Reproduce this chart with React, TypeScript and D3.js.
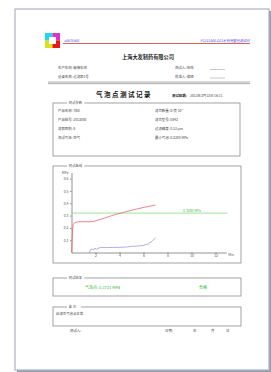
import { useEffect, useRef } from "react";
import { axisBottom, axisLeft, line, scaleLinear, select } from "d3";

// chart values
const yTicks = [0.1, 0.2, 0.3, 0.4, 0.5, 0.6];
const xTicks = [2, 4, 6, 8, 10, 12];
const pressureTime = [0, 0.05, 0.1, 0.15, 0.3, 0.6, 1.0, 1.5, 1.8, 2.5, 3.0, 3.7, 4.5, 5.5, 6.3, 7.0];
const pressureValue = [0, 0.1, 0.2, 0.23, 0.245, 0.25, 0.25, 0.25, 0.251, 0.272, 0.288, 0.31, 0.33, 0.355, 0.372, 0.386];
const flowTime = [1.5, 1.55, 1.7, 1.85, 1.95, 2.1, 2.2, 2.4, 3.0, 3.5, 4.0, 4.6, 5.0, 5.5, 6.0, 6.4, 6.7, 7.0];
const flowValue = [0, 0.02, 0.03, 0.02, 0.035, 0.026, 0.033, 0.04, 0.04, 0.041, 0.042, 0.045, 0.05, 0.052, 0.058, 0.07, 0.09, 0.12];
const minBubble = 0.32;
const bubblePoint = "0.3721";

const infoLeft = ["产品名称: TBD", "产品批号: 2013000", "滤器面积: 8", "测试气体: 空气"];
const infoRight = ["滤芯数量: 0/壳 10\"", "滤芯型号: 0843", "过滤精度: 0.22 μm", "最小气泡: 0.3200 MPa"];

const cjk = "'Noto Sans CJK SC', 'Noto Sans', sans-serif";

const Box = ({ x, y, w, h, label }: any) => (
  <g>
    <rect x={x} y={y} width={w} height={h} fill="none" stroke="#8c8c8c" strokeWidth={0.8} />
    <rect x={x + 14} y={y - 2} width={label.length * 3.6 + 3} height={4} fill="#fff" />
    <text x={x + 15.5} y={y + 1.3} fontSize={3.4} fill="#555">{label}</text>
  </g>
);

export default function App() {
  const xAxisRef = useRef<SVGGElement>(null);
  const yAxisRef = useRef<SVGGElement>(null);

  const x = scaleLinear().domain([0, 12.9]).range([71.5, 226.3]);
  const y = scaleLinear().domain([0, 0.65]).range([252.5, 172.5]);

  useEffect(() => {
    const xa = axisBottom(x).tickValues(xTicks).tickSize(1.5).tickSizeOuter(0).tickPadding(1);
    const ya = axisLeft(y).tickValues(yTicks).tickSize(1.5).tickSizeOuter(0).tickPadding(1.5)
      .tickFormat((d: any) => d.toFixed(1));
    const gx = select(xAxisRef.current);
    //@ts-ignore
    gx.attr("transform", `translate(0,${y(0)})`).call(xa);
    const gy = select(yAxisRef.current);
    //@ts-ignore
    gy.attr("transform", `translate(${x(0)},0)`).call(ya);
    [gx, gy].forEach((g: any) => {
      g.attr("font-size", 3.4).attr("font-family", cjk);
      g.selectAll("path,line").attr("stroke", "#666").attr("stroke-width", 0.7);
      g.selectAll("text").attr("fill", "#555");
    });
  }, []);

  const pressureLine = line<number>()
    .x((d, i) => x(pressureTime[i]))
    .y((d) => y(d));
  const flowLine = line<number>()
    .x((d, i) => x(flowTime[i]))
    .y((d) => y(d));

  return (
    <svg width={271} height={372} style={{ position: "absolute", left: 0, top: 0, fontFamily: cjk }}>
      <rect width={271} height={372} fill="#fff" />
      {/* page with shadow */}
      <rect x={17} y={11} width={254} height={361} fill="#9a9cae" />
      <rect x={15} y={9} width={254} height={361} fill="#fff" stroke="#aeb2c6" strokeWidth={1.2} />

      {/* header */}
      <g>
        <rect x={45} y={33} width={15} height={15} fill="#ff0" />
        <polygon points="45,33 52.5,33 52.5,40.5 45,40.5" fill="#22d8e8" />
        <polygon points="52.5,33 60,33 60,40.5 52.5,40.5" fill="#e030d0" />
        <polygon points="45,40.5 52.5,40.5 52.5,48 45,48" fill="#d8e020" />
        <polygon points="52.5,40.5 60,40.5 60,48 52.5,48" fill="#e81818" />
        <polygon points="49,37 56,37 56,44 49,44" fill="#fff" />
      </g>
      <text x={64} y={41.5} fontSize={3.4} fill="#3a3ae0" fontStyle="italic">x0876400</text>
      <text x={250} y={41.5} fontSize={3.4} fill="#3a3ae0" fontStyle="italic" textAnchor="end">P1311000-D21系列完整性测试仪</text>
      <line x1={63} x2={250} y1={43.5} y2={43.5} stroke="#e03030" strokeWidth={0.8} />

      <text x={148} y={59} fontSize={5.2} fill="#222" textAnchor="middle" fontWeight="bold">上海大发制药有限公司</text>

      <text x={58} y={69} fontSize={3.4} fill="#444">生产车间: 输液车间</text>
      <text x={58} y={77.5} fontSize={3.4} fill="#444">设备名称: 过滤器1号</text>
      <text x={175} y={69} fontSize={3.4} fill="#444">测试人: 哈哈</text>
      <text x={175} y={77.5} fontSize={3.4} fill="#444">校准人: 编辑</text>
      <line x1={210} x2={225} y1={69.5} y2={69.5} stroke="#777" strokeWidth={0.4} />
      <line x1={210} x2={225} y1={78} y2={78} stroke="#777" strokeWidth={0.4} />
      <line x1={48} x2={250} y1={82} y2={82} stroke="#777" strokeWidth={0.6} />
      <line x1={48} x2={250} y1={83.6} y2={83.6} stroke="#777" strokeWidth={0.6} />

      <text x={124} y={97} fontSize={6.5} fill="#111" textAnchor="middle" fontWeight="bold" letterSpacing={1.5}>气泡点测试记录</text>
      <text x={172} y={96.5} fontSize={3.4} fill="#111" fontWeight="bold">测试日期:</text>
      <text x={190} y={96.5} fontSize={3.4} fill="#444">2013年3月13日 16:11</text>

      {/* parameters */}
      <Box x={53} y={103} w={187} h={53} label="测试参数" />
      {infoLeft.map((t, i) => (
        <text key={t} x={58} y={111.5 + i * 9.2} fontSize={3.4} fill="#444">{t}</text>
      ))}
      {infoRight.map((t, i) => (
        <text key={t} x={155} y={111.5 + i * 9.2} fontSize={3.4} fill="#444">{t}</text>
      ))}

      {/* curve */}
      <Box x={53} y={166} w={188} h={97} label="测试曲线" />
      <g ref={yAxisRef} />
      <g ref={xAxisRef} />
      <text x={x(0) - 3} y={173.5} fontSize={3.4} fill="#555" textAnchor="end">MPa</text>
      <text x={x(12.9) + 2} y={256} fontSize={3.4} fill="#555">Min</text>
      <line x1={x(0)} x2={x(13)} y1={y(minBubble)} y2={y(minBubble)} stroke="#7ee07e" strokeWidth={0.8} />
      <text x={x(9.3)} y={y(minBubble) - 1.2} fontSize={3.4} fill="#4fb84f">0.3200 MPa</text>
      <path d={pressureLine(pressureValue) ?? ""} fill="none" stroke="#f06070" strokeWidth={0.8} />
      <path d={flowLine(flowValue) ?? ""} fill="none" stroke="#8a8ae6" strokeWidth={0.7} />

      {/* result */}
      <Box x={53} y={278} w={188} h={18} label="测试结果" />
      <text x={85} y={288.5} fontSize={4} fill="#2ec02e">气泡点: {bubblePoint} MPa</text>
      <text x={199} y={288.5} fontSize={4} fill="#2ec02e">合格</text>

      {/* remarks */}
      <Box x={53} y={307} w={188} h={19} label="备 注" />
      <text x={56} y={314.5} fontSize={3.4} fill="#444">此滤芯气泡点正常</text>
      <text x={70} y={332} fontSize={3.4} fill="#444">测试人:</text>
      <text x={165} y={332} fontSize={3.4} fill="#444">日期:</text>
      <text x={193} y={332} fontSize={3.4} fill="#444">年</text>
      <text x={211} y={332} fontSize={3.4} fill="#444">月</text>
      <text x={226} y={332} fontSize={3.4} fill="#444">日</text>
    </svg>
  );
}
